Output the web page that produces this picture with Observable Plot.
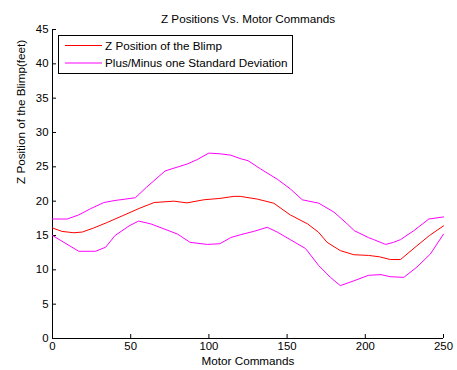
<!DOCTYPE html>
<html>
<head>
<meta charset="utf-8">
<script src="https://cdn.jsdelivr.net/npm/d3@7"></script>
<script src="https://cdn.jsdelivr.net/npm/@observablehq/plot@0.6"></script>
<style>
  html, body { margin: 0; padding: 0; background: #fff; }
  svg { font-family: "Liberation Sans", Arial, sans-serif; }
</style>
</head>
<body>
<div id="chart"></div>
<script>
// Mean Z position of the blimp
const meanX = [0, 6, 13.6, 19, 26.4, 35, 45, 56, 65, 77.6, 86, 96.7, 107, 116, 120, 131, 141.5, 152, 163, 170, 175.6, 184, 192.7, 202, 209, 216, 222.5, 233, 241, 250];
const meanY = [16.1, 15.6, 15.4, 15.5, 16.1, 16.9, 17.9, 19.0, 19.8, 20.0, 19.75, 20.2, 20.4, 20.7, 20.7, 20.3, 19.7, 18.0, 16.7, 15.5, 14.0, 12.8, 12.2, 12.1, 11.9, 11.5, 11.5, 13.5, 15.0, 16.4];

// Mean + one standard deviation
const upperX = [0, 9.4, 16.8, 24.3, 32.8, 40, 53, 60, 72, 86, 92, 100, 107, 114, 120, 125, 133, 143.7, 152, 159.7, 170.3, 180, 188.4, 193, 202, 205.4, 213, 218, 222.5, 231, 240.6, 250];
const upperY = [17.4, 17.4, 18.0, 18.9, 19.8, 20.1, 20.5, 22.0, 24.4, 25.4, 26.0, 27.0, 26.9, 26.7, 26.2, 25.9, 24.7, 23.2, 21.8, 20.2, 19.7, 18.4, 16.7, 15.7, 14.7, 14.4, 13.7, 14.0, 14.4, 15.7, 17.4, 17.7];

// Mean - one standard deviation
const lowerX = [0, 7.3, 16.8, 27.5, 34, 40, 49, 55, 62.7, 72, 80, 88, 99, 107, 114, 120, 128.7, 137.3, 143.7, 152, 161.8, 170.3, 177.7, 184, 192.7, 202, 210, 216, 224.6, 233, 241.6, 250];
const lowerY = [15.0, 14.0, 12.7, 12.7, 13.3, 15.0, 16.4, 17.1, 16.7, 15.9, 15.2, 14.0, 13.7, 13.8, 14.7, 15.1, 15.6, 16.2, 15.5, 14.4, 13.1, 10.6, 8.9, 7.7, 8.4, 9.2, 9.3, 9.0, 8.9, 10.4, 12.3, 15.2];

const xTicks = [0, 50, 100, 150, 200, 250];
const yTicks = [0, 5, 10, 15, 20, 25, 30, 35, 40, 45];

const titleText = "Z Positions Vs. Motor Commands";
const xLabel = "Motor Commands";
const yLabel = "Z Position of the Blimp(feet)";
const legendLabels = ["Z Position of the Blimp", "Plus/Minus one Standard Deviation"];
const legendColors = ["#ff0000", "#ff00ff"];

const mean = meanX.map((x, i) => ({x, y: meanY[i]}));
const upper = upperX.map((x, i) => ({x, y: upperY[i]}));
const lower = lowerX.map((x, i) => ({x, y: lowerY[i]}));

function legendMark(index, scales, values, dimensions) {
  const g = d3.create("svg:g").attr("text-anchor", "start");
  const left = dimensions.marginLeft + 6;
  const top = dimensions.marginTop + 6;
  g.append("rect")
    .attr("x", left + 0.5).attr("y", top + 0.5)
    .attr("width", 234).attr("height", 38)
    .attr("fill", "#fff").attr("stroke", "#000").attr("stroke-width", 1);
  legendLabels.forEach((lab, i) => {
    const cy = top + 10.5 + i * 17.5;
    g.append("line")
      .attr("x1", left + 7).attr("x2", left + 44)
      .attr("y1", cy).attr("y2", cy)
      .attr("stroke", legendColors[i]).attr("stroke-width", 1);
    g.append("text")
      .attr("x", left + 47).attr("y", cy)
      .attr("dy", "0.35em")
      .attr("text-anchor", "start")
      .attr("font-size", 11.7)
      .attr("fill", "#000")
      .text(lab);
  });
  return g.node();
}

const chart = Plot.plot({
  width: 457,
  height: 370,
  marginLeft: 52,
  marginRight: 14,
  marginTop: 29,
  marginBottom: 32,
  style: {fontFamily: "Liberation Sans, Arial, sans-serif", fontSize: "11.4px", color: "#000", background: "#fff"},
  x: {domain: [0, 250]},
  y: {domain: [0, 45]},
  marks: [
    Plot.axisX({ticks: xTicks, tickSize: -4, tickPadding: 7, label: null, tickFormat: d => String(d), fontSize: 11.4}),
    Plot.axisY({ticks: yTicks, tickSize: -4, tickPadding: 8, label: null, tickFormat: d => String(d), fontSize: 11.4}),
    Plot.ruleY([0], {stroke: "#000"}),
    Plot.ruleX([0], {stroke: "#000"}),
    Plot.line(upper, {x: "x", y: "y", stroke: "#ff00ff", strokeWidth: 1}),
    Plot.line(lower, {x: "x", y: "y", stroke: "#ff00ff", strokeWidth: 1}),
    Plot.line(mean, {x: "x", y: "y", stroke: "#ff0000", strokeWidth: 1}),
    Plot.text([titleText], {frameAnchor: "top", dy: -15, fontSize: 11.7, fill: "#000"}),
    Plot.text([xLabel], {frameAnchor: "bottom", dy: 26, fontSize: 11.7, fill: "#000"}),
    Plot.text([yLabel], {frameAnchor: "left", dx: -31, rotate: -90, fontSize: 11.7, fill: "#000"}),
    legendMark
  ]
});
document.getElementById("chart").appendChild(chart);
</script>
</body>
</html>
